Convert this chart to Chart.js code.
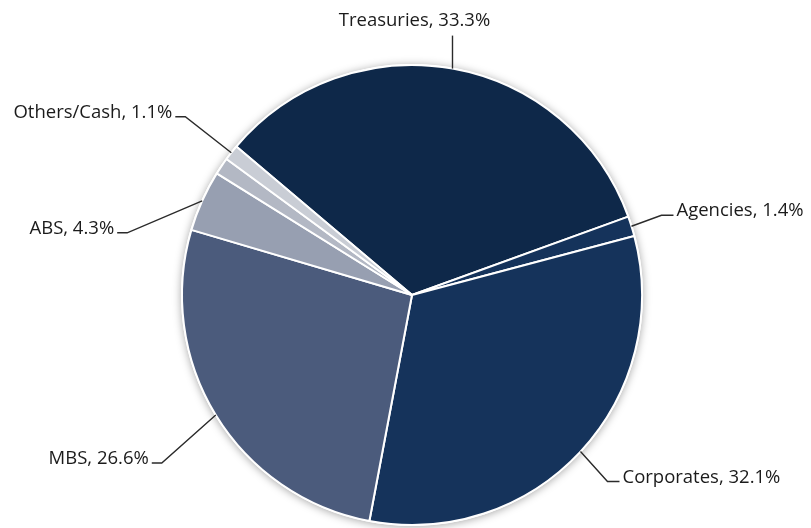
<!DOCTYPE html>
<html>
<head>
<meta charset="utf-8">
<script src="https://cdn.jsdelivr.net/npm/chart.js@4.4.1/dist/chart.umd.min.js"></script>
<style>
  html,body{margin:0;padding:0;background:#fff;}
  #wrap{width:811px;height:528px;position:relative;}
</style>
</head>
<body>
<div id="wrap"><canvas id="pieChart" width="811" height="528"></canvas></div>
<script>
// portfolio sectors, clockwise from Treasuries
const sectors = ['Treasuries', 'Agencies', 'Corporates', 'MBS', 'ABS', '', 'Others/Cash'];
const weights = [33.3, 1.4, 32.1, 26.6, 4.3, 1.2, 1.1];
const sliceColors = ['#0e2849', '#15335b', '#15335b', '#4b5b7c', '#979fb1', '#b3b8c4', '#c9cdd5'];

// leader line elbow offsets from the slice edge, and which side the text sits
const labelLayout = [
  {dx: 0, dy: -33, side: 'top'},
  {dx: 30, dy: -11, side: 'right'},
  {dx: 27, dy: 30, side: 'right'},
  {dx: -54, dy: 48, side: 'left'},
  {dx: -75, dy: 32, side: 'left'},
  null,
  {dx: -46, dy: -36, side: 'left'}
];

const pieShadow = {
  id: 'pieShadow',
  beforeDatasetsDraw(chart) {
    const arc = chart.getDatasetMeta(0).data[0];
    if (!arc) return;
    const ctx = chart.ctx;
    ctx.save();
    ctx.shadowColor = 'rgba(0,0,0,0.35)';
    ctx.shadowBlur = 9;
    ctx.shadowOffsetX = 0;
    ctx.shadowOffsetY = 1;
    ctx.fillStyle = '#ffffff';
    ctx.beginPath();
    ctx.arc(arc.x, arc.y, arc.outerRadius + 1, 0, Math.PI * 2);
    ctx.fill();
    ctx.restore();
  }
};

const leaderLabels = {
  id: 'leaderLabels',
  afterDatasetsDraw(chart) {
    const ctx = chart.ctx;
    const meta = chart.getDatasetMeta(0);
    ctx.save();
    ctx.font = '18.5px "Open Sans", Lato, sans-serif';
    ctx.fillStyle = '#1b1b1b';
    ctx.strokeStyle = '#2a2a2a';
    ctx.lineWidth = 1.4;
    meta.data.forEach((arc, i) => {
      const lay = labelLayout[i];
      if (!lay || !sectors[i]) return;
      const mid = (arc.startAngle + arc.endAngle) / 2;
      const ex = arc.x + Math.cos(mid) * arc.outerRadius;
      const ey = arc.y + Math.sin(mid) * arc.outerRadius;
      const bx = ex + lay.dx;
      const by = ey + lay.dy;
      const text = sectors[i] + ', ' + weights[i].toFixed(1) + '%';
      ctx.beginPath();
      ctx.moveTo(ex, ey);
      ctx.lineTo(bx, by);
      if (lay.side === 'top') {
        ctx.stroke();
        ctx.textAlign = 'center';
        ctx.textBaseline = 'middle';
        ctx.fillText(text, bx - 38, by - 15);
      } else if (lay.side === 'right') {
        ctx.lineTo(bx + 12, by);
        ctx.stroke();
        ctx.textAlign = 'left';
        ctx.textBaseline = 'middle';
        ctx.fillText(text, bx + 15, by - 4);
      } else {
        ctx.lineTo(bx - 10, by);
        ctx.stroke();
        ctx.textAlign = 'right';
        ctx.textBaseline = 'middle';
        ctx.fillText(text, bx - 13, by - 4);
      }
    });
    ctx.restore();
  }
};

new Chart(document.getElementById('pieChart'), {
  type: 'pie',
  data: {
    labels: sectors,
    datasets: [{
      data: weights,
      backgroundColor: sliceColors,
      borderColor: '#ffffff',
      borderWidth: 2
    }]
  },
  options: {
    responsive: false,
    animation: false,
    rotation: -49.8,
    layout: {
      padding: {left: 181, right: 168, top: 64, bottom: 2}
    },
    plugins: {
      legend: {display: false},
      tooltip: {enabled: false}
    }
  },
  plugins: [pieShadow, leaderLabels]
});
</script>
</body>
</html>
